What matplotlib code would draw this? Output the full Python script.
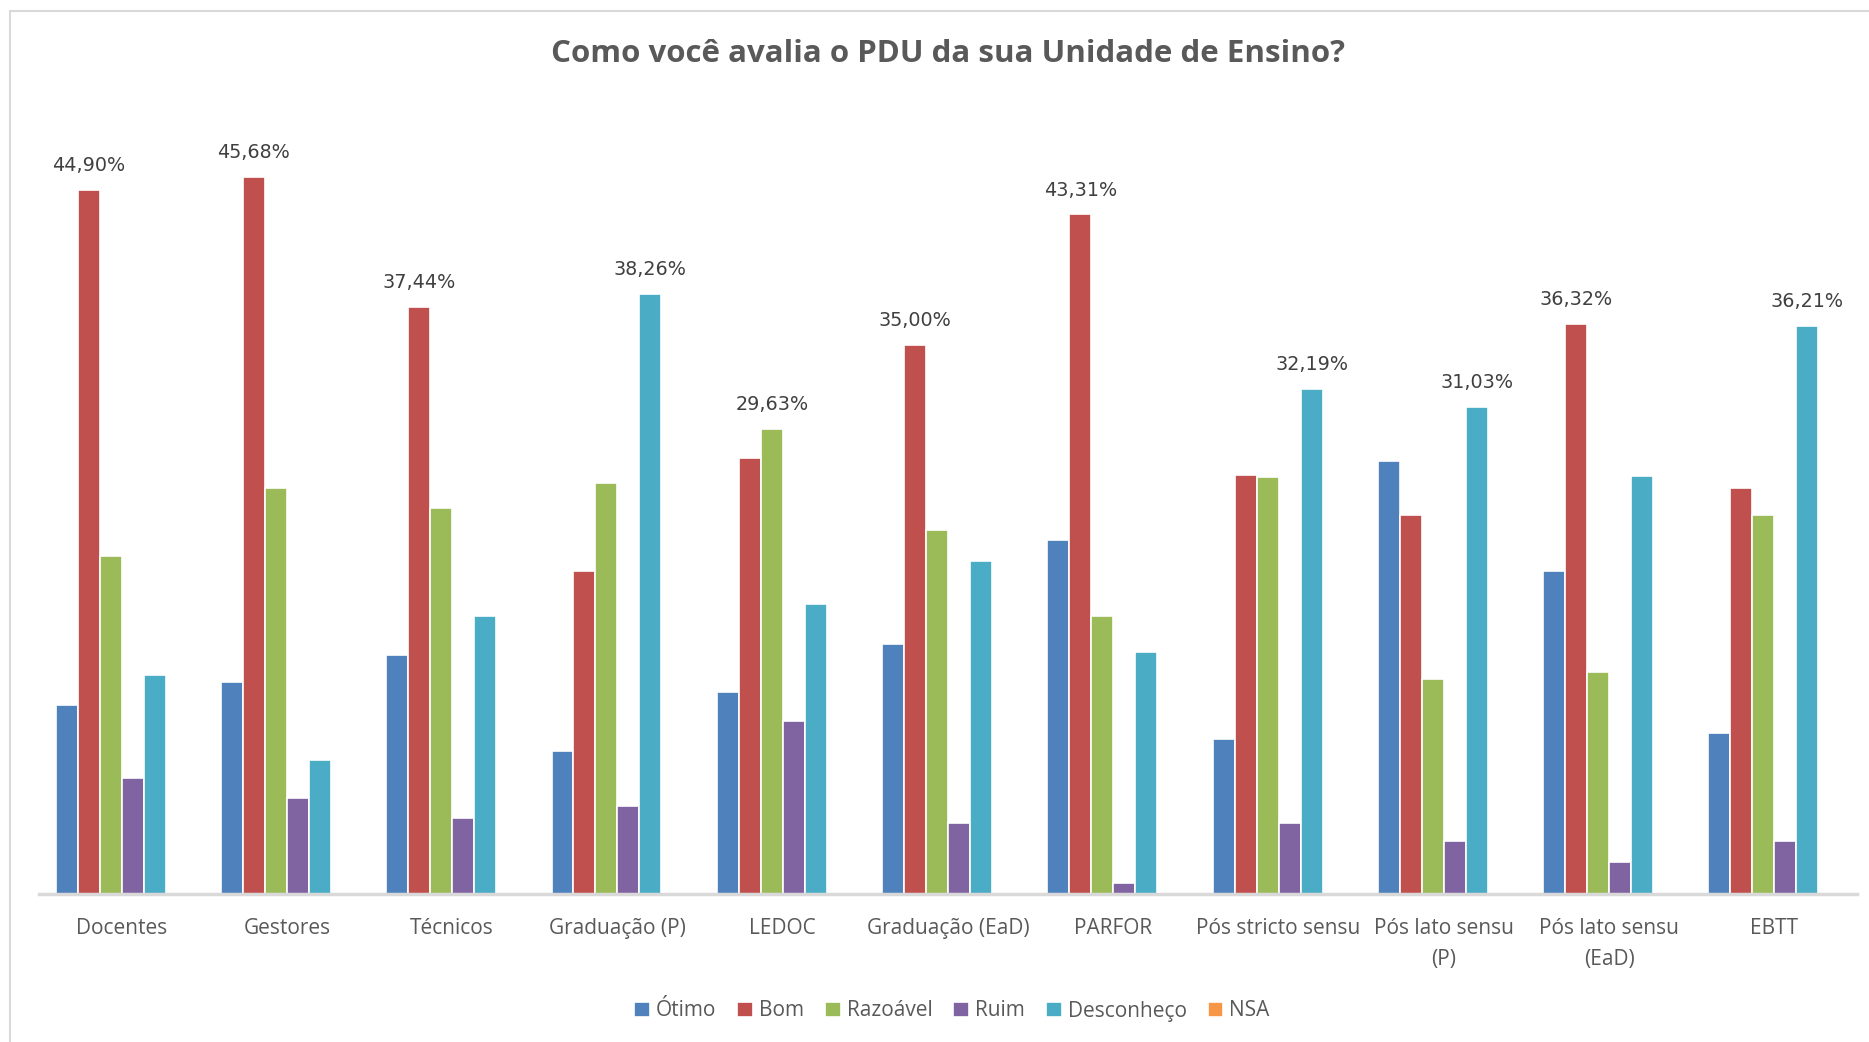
import numpy as np
import matplotlib
matplotlib.use("Agg")
import matplotlib.pyplot as plt
from matplotlib.patches import Rectangle

# =========================
# DATA
# =========================

CATEGORIES = [
    "Docentes", "Gestores", "Técnicos", "Graduação (P)", "LEDOC",
    "Graduação (EaD)", "PARFOR", "Pós stricto sensu", "Pós lato sensu\n(P)",
    "Pós lato sensu\n(EaD)", "EBTT",
]

SERIES = ["Ótimo", "Bom", "Razoável", "Ruim", "Desconheço", "NSA"]

otimo = [12.04, 13.50, 15.24, 9.11, 12.89, 15.94, 22.55, 9.88, 27.60, 20.61, 10.29]
bom = [44.90, 45.68, 37.44, 20.58, 27.78, 35.00, 43.31, 26.71, 24.14, 36.32, 25.86]
razoavel = [21.53, 25.88, 24.61, 26.17, 29.63, 23.18, 17.72, 26.55, 13.72, 14.13, 24.14]
ruim = [7.37, 6.10, 4.86, 5.62, 11.05, 4.54, 0.73, 4.54, 3.37, 2.03, 3.37]
desconheco = [13.94, 8.57, 17.69, 38.26, 18.48, 21.21, 15.43, 32.19, 31.03, 26.67, 36.21]
nsa = [0, 0, 0, 0, 0, 0, 0, 0, 0, 0, 0]

COLORS = ["#4F81BD", "#C0504D", "#9BBB59", "#8064A2", "#4BACC6", "#F79646"]

TEXT_FONT = ["Open Sans", "DejaVu Sans"]

# =========================
# PLOT
# =========================

values = [otimo, bom, razoavel, ruim, desconheco, nsa]

W, H = 1869, 1042
fig = plt.figure(figsize=(W / 100, H / 100), dpi=100)

# chart border (Excel style)
fig.patches.append(Rectangle((10 / W, -0.1), 1.2, 1.1 - 11 / H,
                             transform=fig.transFigure, fill=False,
                             edgecolor="#d9d9d9", linewidth=1.5))

ax = fig.add_axes([39 / W, 1 - 894 / H, (1857 - 39) / W, (894 - 109.5) / H])

x = np.arange(len(CATEGORIES))
step = 0.133
for i, (name, vals) in enumerate(zip(SERIES, values)):
    offset = (i - (len(SERIES) - 1) / 2) * step
    ax.bar(x + offset, vals, width=step, color=COLORS[i], label=name,
           edgecolor="white", linewidth=1.2, zorder=2)

# label the highest bar of each group
arr = np.array(values)
for j in range(len(CATEGORIES)):
    k = int(np.argmax(arr[:, j]))
    v = arr[k, j]
    xpos = x[j] + (k - (len(SERIES) - 1) / 2) * step
    ax.text(xpos, v + 0.95, f"{v:.2f}%".replace(".", ","), ha="center",
            va="bottom", fontsize=13.8, color="#404040", family="DejaVu Sans")

ax.set_xlim(-0.5, len(CATEGORIES) - 0.5)
ax.set_ylim(0, 50)
ax.set_yticks([])
ax.set_xticks(x)
ax.set_xticklabels(CATEGORIES, fontsize=15, color="#595959", family=TEXT_FONT,
                   linespacing=1.65)
ax.tick_params(axis="x", length=0, pad=17)
for side in ["top", "right", "left"]:
    ax.spines[side].set_visible(False)
ax.spines["bottom"].set_color("#d9d9d9")
ax.spines["bottom"].set_linewidth(2.5)

fig.text(948 / W, 1 - 54 / H, "Como você avalia o PDU da sua Unidade de Ensino?",
         ha="center", va="center", fontsize=22.5, fontweight="bold",
         color="#595959", family=TEXT_FONT)

leg = fig.legend(loc="center", bbox_to_anchor=(952 / W, 1 - 1011 / H), ncol=6,
                 frameon=False, handlelength=0.75, handleheight=0.75,
                 handletextpad=0.3, columnspacing=1.0,
                 prop={"family": TEXT_FONT, "size": 15})
for t in leg.get_texts():
    t.set_color("#595959")

fig.savefig("out.png", dpi=100)
